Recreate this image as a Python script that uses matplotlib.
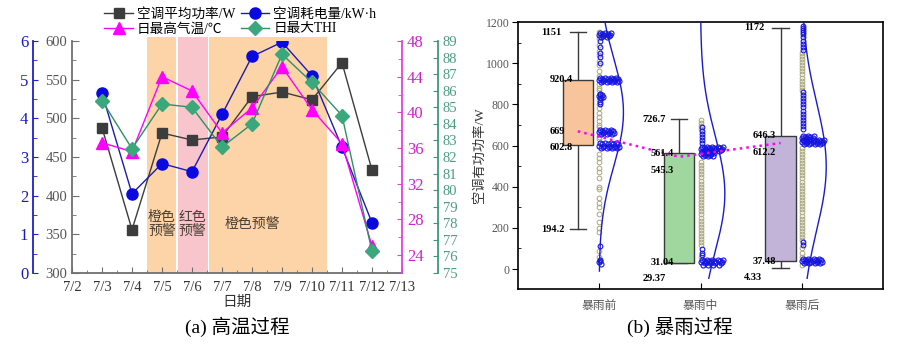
import numpy as np
import matplotlib
matplotlib.use("Agg")
import matplotlib.pyplot as plt
from matplotlib.ticker import MultipleLocator

plt.rcParams['font.family'] = ['Liberation Serif', 'Noto Sans CJK SC']
plt.rcParams['axes.unicode_minus'] = False

# ---------------- (a) 高温过程 ----------------
day_labels = ['7/2', '7/3', '7/4', '7/5', '7/6', '7/7', '7/8', '7/9',
              '7/10', '7/11', '7/12', '7/13']
days = [3, 4, 5, 6, 7, 8, 9, 10, 11, 12]
power_w = [488, 356, 481, 472, 476, 528, 534, 524, 572, 433]
energy_kwh = [4.65, 2.05, 2.83, 2.62, 4.10, 5.60, 5.97, 5.10, 3.25, 1.30]
tmax_c = [36.6, 35.6, 44.0, 42.4, 37.7, 40.5, 45.1, 40.3, 36.5, 25.0]
thi_max = [85.4, 82.5, 85.2, 85.0, 82.6, 84.0, 88.2, 86.5, 84.5, 76.3]

warn_spans = [(4.5, 5.48), (5.52, 6.52), (6.57, 10.5)]
warn_colors = ['#fcd4a7', '#f8c5cc', '#fcd4a7']
warn_texts = ['橙色\n预警', '红色\n预警', '橙色预警']
warn_text_x = [5, 6, 8]

# ---------------- (b) 暴雨过程 ----------------
stages = ['暴雨前', '暴雨中', '暴雨后']
whis_hi = [1151, 726.7, 1172]
q3 = [920.4, 561.4, 646.3]
median = [669, 545.3, 612.2]
q1 = [602.8, 31.04, 37.48]
whis_lo = [194.2, 29.37, 4.33]
means = [761, 366, 498]
fit_sd = [260, 280, 310]
fit_lo = [-10, -45, -45]

# scatter points: single points on the column, and
# dense rows (value, count) that spread to the right
pre_olive = [1150, 1120, 1090, 1060, 1040, 1010, 990, 960, 940, 900, 880, 870,
             820, 800, 780, 760, 740, 720, 700, 690, 640, 630, 560, 540, 520,
             490, 470, 440, 400, 390, 345, 320, 300, 265, 230, 200, 180, 90, 60]
pre_blue = [1110, 1080, 1050, 1030, 1000, 850, 830, 810, 800, 110, 40]
pre_rows = [(1135, 12), (920, 20), (840, 5), (665, 15), (600, 20), (35, 3)]

mid_olive = [725, 710, 695, 680, 520, 505, 490, 475, 460, 445, 430, 415, 400,
             385, 370, 355, 340, 325, 310, 295, 280, 265, 250, 235, 220, 205,
             190, 175, 160, 145, 130, 115, 60]
mid_blue = [690, 670, 655, 640, 625, 610, 95, 80, 70]
mid_rows = [(585, 22), (560, 14), (32, 22)]

post_olive = [1050, 1035, 1020, 1005, 990, 975, 960, 945, 930, 915, 900, 885,
              870, 590, 575, 560, 545, 530, 515, 500, 485, 470, 455, 440, 425,
              410, 395, 380, 365, 350, 335, 320, 305, 290, 275, 260, 245, 230,
              215, 200, 185, 170, 155, 140, 100, 80, 60, 20]
post_blue = [1180, 1170, 1160, 1150, 1140, 1125, 1110, 1095, 1080, 1065, 860,
             845, 830, 815, 800, 785, 770, 755, 740, 725, 710, 695, 680, 130, 115]
post_rows = [(635, 12), (615, 22), (40, 20)]

fig = plt.figure(figsize=(9, 3.52), dpi=100)

# ===== left chart =====
GREY, BLUE, MAG, GRN = '#3c3c3c', '#0a0ae0', '#ff00ff', '#3aa77c'
ax = fig.add_axes([72/900, 79/352, 330/900, 232/352])
for (a, b), c in zip(warn_spans, warn_colors):
    ax.axvspan(a, b, ymin=0, ymax=1.017, color=c, lw=0, clip_on=False, zorder=0)
for x, t in zip(warn_text_x, warn_texts):
    ax.text(x, 363, t, ha='center', va='center', fontsize=10,
            color='#4a3f35', linespacing=1.15)

ax.plot(days, power_w, '-s', color=GREY, ms=6.5, lw=1, label='空调平均功率/W')
ax.set_xlim(2, 13)
ax.set_ylim(300, 600)
ax.set_xticks(range(2, 14))
ax.set_xticklabels(day_labels)
ax.xaxis.set_minor_locator(MultipleLocator(0.5))
ax.yaxis.set_major_locator(MultipleLocator(50))
ax.yaxis.set_minor_locator(MultipleLocator(25))
ax.tick_params(axis='both', which='both', direction='in', color='#707070')
ax.tick_params(axis='y', labelcolor='#555555', labelsize=10.5, length=5)
ax.tick_params(axis='y', which='minor', length=3)
ax.tick_params(axis='x', labelsize=10.5, labelcolor='#333333', length=4, pad=6)
ax.tick_params(axis='x', which='minor', length=2.5)
ax.spines['top'].set_visible(False)
ax.spines['right'].set_visible(False)
ax.spines['left'].set_color('#707070')
ax.spines['bottom'].set_color('#707070')
ax.spines['left'].set_linewidth(1.3)
ax.spines['bottom'].set_linewidth(1.3)
ax.set_xlabel('日期', fontsize=10.5, color='#333333', labelpad=1)

ax_e = ax.twinx()
ax_e.plot(days, energy_kwh, '-o', color='#1c1caa', mfc=BLUE, mec=BLUE, ms=8,
          lw=1, label='空调耗电量/kW·h')
ax_e.set_ylim(0, 6)
ax_e.spines['left'].set_position(('axes', -0.118))
ax_e.spines['left'].set_visible(True)
ax_e.spines['left'].set_color('#2020c0')
ax_e.spines['left'].set_linewidth(1.3)
for s in ['right', 'top', 'bottom']:
    ax_e.spines[s].set_visible(False)
ax_e.yaxis.set_ticks_position('left')
ax_e.yaxis.set_label_position('left')
ax_e.yaxis.set_major_locator(MultipleLocator(1))
ax_e.yaxis.set_minor_locator(MultipleLocator(0.5))
ax_e.tick_params(axis='y', which='both', direction='in', color='#2020c0',
                 labelcolor='#1a1ab0', labelsize=12)
ax_e.tick_params(axis='y', which='minor', length=3)

ax_t = ax.twinx()
ax_t.plot(days, tmax_c, '-^', color=MAG, ms=8.5, lw=1, label='日最高气温/℃')
ax_t.set_ylim(22, 48)
for s in ['left', 'top', 'bottom']:
    ax_t.spines[s].set_visible(False)
ax_t.spines['right'].set_color('#e040e0')
ax_t.spines['right'].set_linewidth(1.3)
ax_t.yaxis.set_minor_locator(MultipleLocator(2))
ax_t.set_yticks(range(24, 49, 4))
ax_t.tick_params(axis='y', which='both', direction='in', color='#e040e0',
                 labelcolor='#d21fd2', labelsize=12)
ax_t.tick_params(axis='y', which='minor', length=3)

ax_h = ax.twinx()
ax_h.plot(days, thi_max, '-D', color='#2f8f66', mfc=GRN, mec=GRN, ms=7,
          lw=1, label='日最大THI')
ax_h.set_ylim(75, 89)
ax_h.spines['right'].set_position(('axes', 1.109))
for s in ['left', 'top', 'bottom']:
    ax_h.spines[s].set_visible(False)
ax_h.spines['right'].set_color('#3a9a76')
ax_h.spines['right'].set_linewidth(1.3)
ax_h.yaxis.set_major_locator(MultipleLocator(1))
ax_h.tick_params(axis='y', which='both', direction='in', color='#3a9a76',
                 labelcolor='#4a9e80', labelsize=10.5, length=3.5)

handles = []
labels = []
for a in (ax, ax_t, ax_e, ax_h):
    h, l = a.get_legend_handles_labels()
    handles += h
    labels += l
fig.legend(handles, labels, ncol=2, loc='upper left',
           bbox_to_anchor=(92/900, 1.012), frameon=False, fontsize=9.8,
           handlelength=2.1, handletextpad=0.3, columnspacing=0.4,
           labelspacing=0.1)

fig.text(237/900, 1 - 327/352, '(a) 高温过程', ha='center', va='center',
         fontsize=14)

# ===== right chart =====
ax2 = fig.add_axes([518/900, 63/352, 365/900, 267/352])
pos = np.arange(1, len(stages) + 1)
box_pos = pos - 0.21
box_colors = ['#f8c49b', '#9fd79f', '#c2b4d8']
OLIVE = '#a9a77c'
PT = '#1414e0'

stats = []
for i in range(len(stages)):
    stats.append(dict(med=median[i], q1=q1[i], q3=q3[i], whislo=whis_lo[i],
                      whishi=whis_hi[i], mean=means[i], fliers=[]))
bp = ax2.bxp(stats, positions=box_pos, widths=0.3, capwidths=0.16,
             patch_artist=True, showmeans=True, manage_ticks=False,
             boxprops=dict(edgecolor='#3a3a3a', lw=1),
             whiskerprops=dict(color='#3a3a3a', lw=1),
             capprops=dict(color='#3a3a3a', lw=1),
             medianprops=dict(color='#ee2222', lw=1.2),
             meanprops=dict(marker='s', ms=3, mfc='none', mec='#555555', mew=0.6))
for patch, c in zip(bp['boxes'], box_colors):
    patch.set_facecolor(c)
    patch.set_zorder(3)

ax2.plot(box_pos, median, ':', color=MAG, lw=1.8, zorder=4)


def draw_points(p, olive, blue, rows):
    ax2.plot([p] * len(olive), olive, 'o', ms=3.4, mfc='none', mec=OLIVE,
             mew=0.7, zorder=2)
    ax2.plot([p + 0.01] * len(blue), blue, 'o', ms=3.4, mfc='none', mec=PT,
             mew=0.8, zorder=2)
    wig = [0, 10, -10, 5, -5]
    for v, n in rows:
        xs = [p + 0.0105 * k for k in range(n)]
        ys = [v + wig[k % 5] for k in range(n)]
        ax2.plot(xs, ys, 'o', ms=3.6, mfc='none', mec=PT, mew=0.8, zorder=2)


for p, (o, b, r) in zip(pos, [(pre_olive, pre_blue, pre_rows),
                              (mid_olive, mid_blue, mid_rows),
                              (post_olive, post_blue, post_rows)]):
    draw_points(p, o, b, r)

# fitted normal curves
for i, p in enumerate(pos):
    yy = np.linspace(fit_lo[i], 1250, 300)
    xx = p + 0.24 * np.exp(-0.5 * ((yy - means[i]) / fit_sd[i]) ** 2)
    ax2.plot(xx, yy, color='#1a1ad0', lw=1, zorder=3)

# value labels
lab_style = dict(fontsize=7.5, fontweight='bold', color='black', zorder=6,
                 va='center', ha='left', textcoords='offset points')
lab_shift = [[0, 0, 0, -2, 0], [0, 0, -10, 0, -11], [0, 0, -7, 0, -7]]
for i, bx in enumerate(box_pos):
    vals = [whis_hi[i], q3[i], median[i], q1[i], whis_lo[i]]
    for j, v in enumerate(vals):
        dx = -0.36 if j in (0, 4) else -0.28
        ax2.annotate(f'{v:g}', (bx + dx, v), xytext=(0, lab_shift[i][j]),
                     **lab_style)

ax2.set_xlim(0.2, 3.8)
ax2.set_ylim(-97, 1200)
ax2.set_xticks(pos)
ax2.set_xticklabels(stages)
ax2.yaxis.set_major_locator(MultipleLocator(200))
ax2.yaxis.set_minor_locator(MultipleLocator(100))
ax2.tick_params(axis='y', which='major', direction='out', length=4,
                labelsize=8.5, labelcolor='#555555', pad=2)
ax2.tick_params(axis='y', which='minor', direction='in', length=2.5)
ax2.tick_params(axis='x', direction='in', length=4, labelsize=8.5,
                labelcolor='#555555', pad=8)
ax2.set_ylabel('空调有功功率/W', fontsize=9.5, color='#333333', labelpad=0)
for s in ax2.spines.values():
    s.set_linewidth(1.2)

fig.text(680/900, 1 - 327/352, '(b) 暴雨过程', ha='center', va='center',
         fontsize=14)

fig.savefig('out.png', dpi=100)
